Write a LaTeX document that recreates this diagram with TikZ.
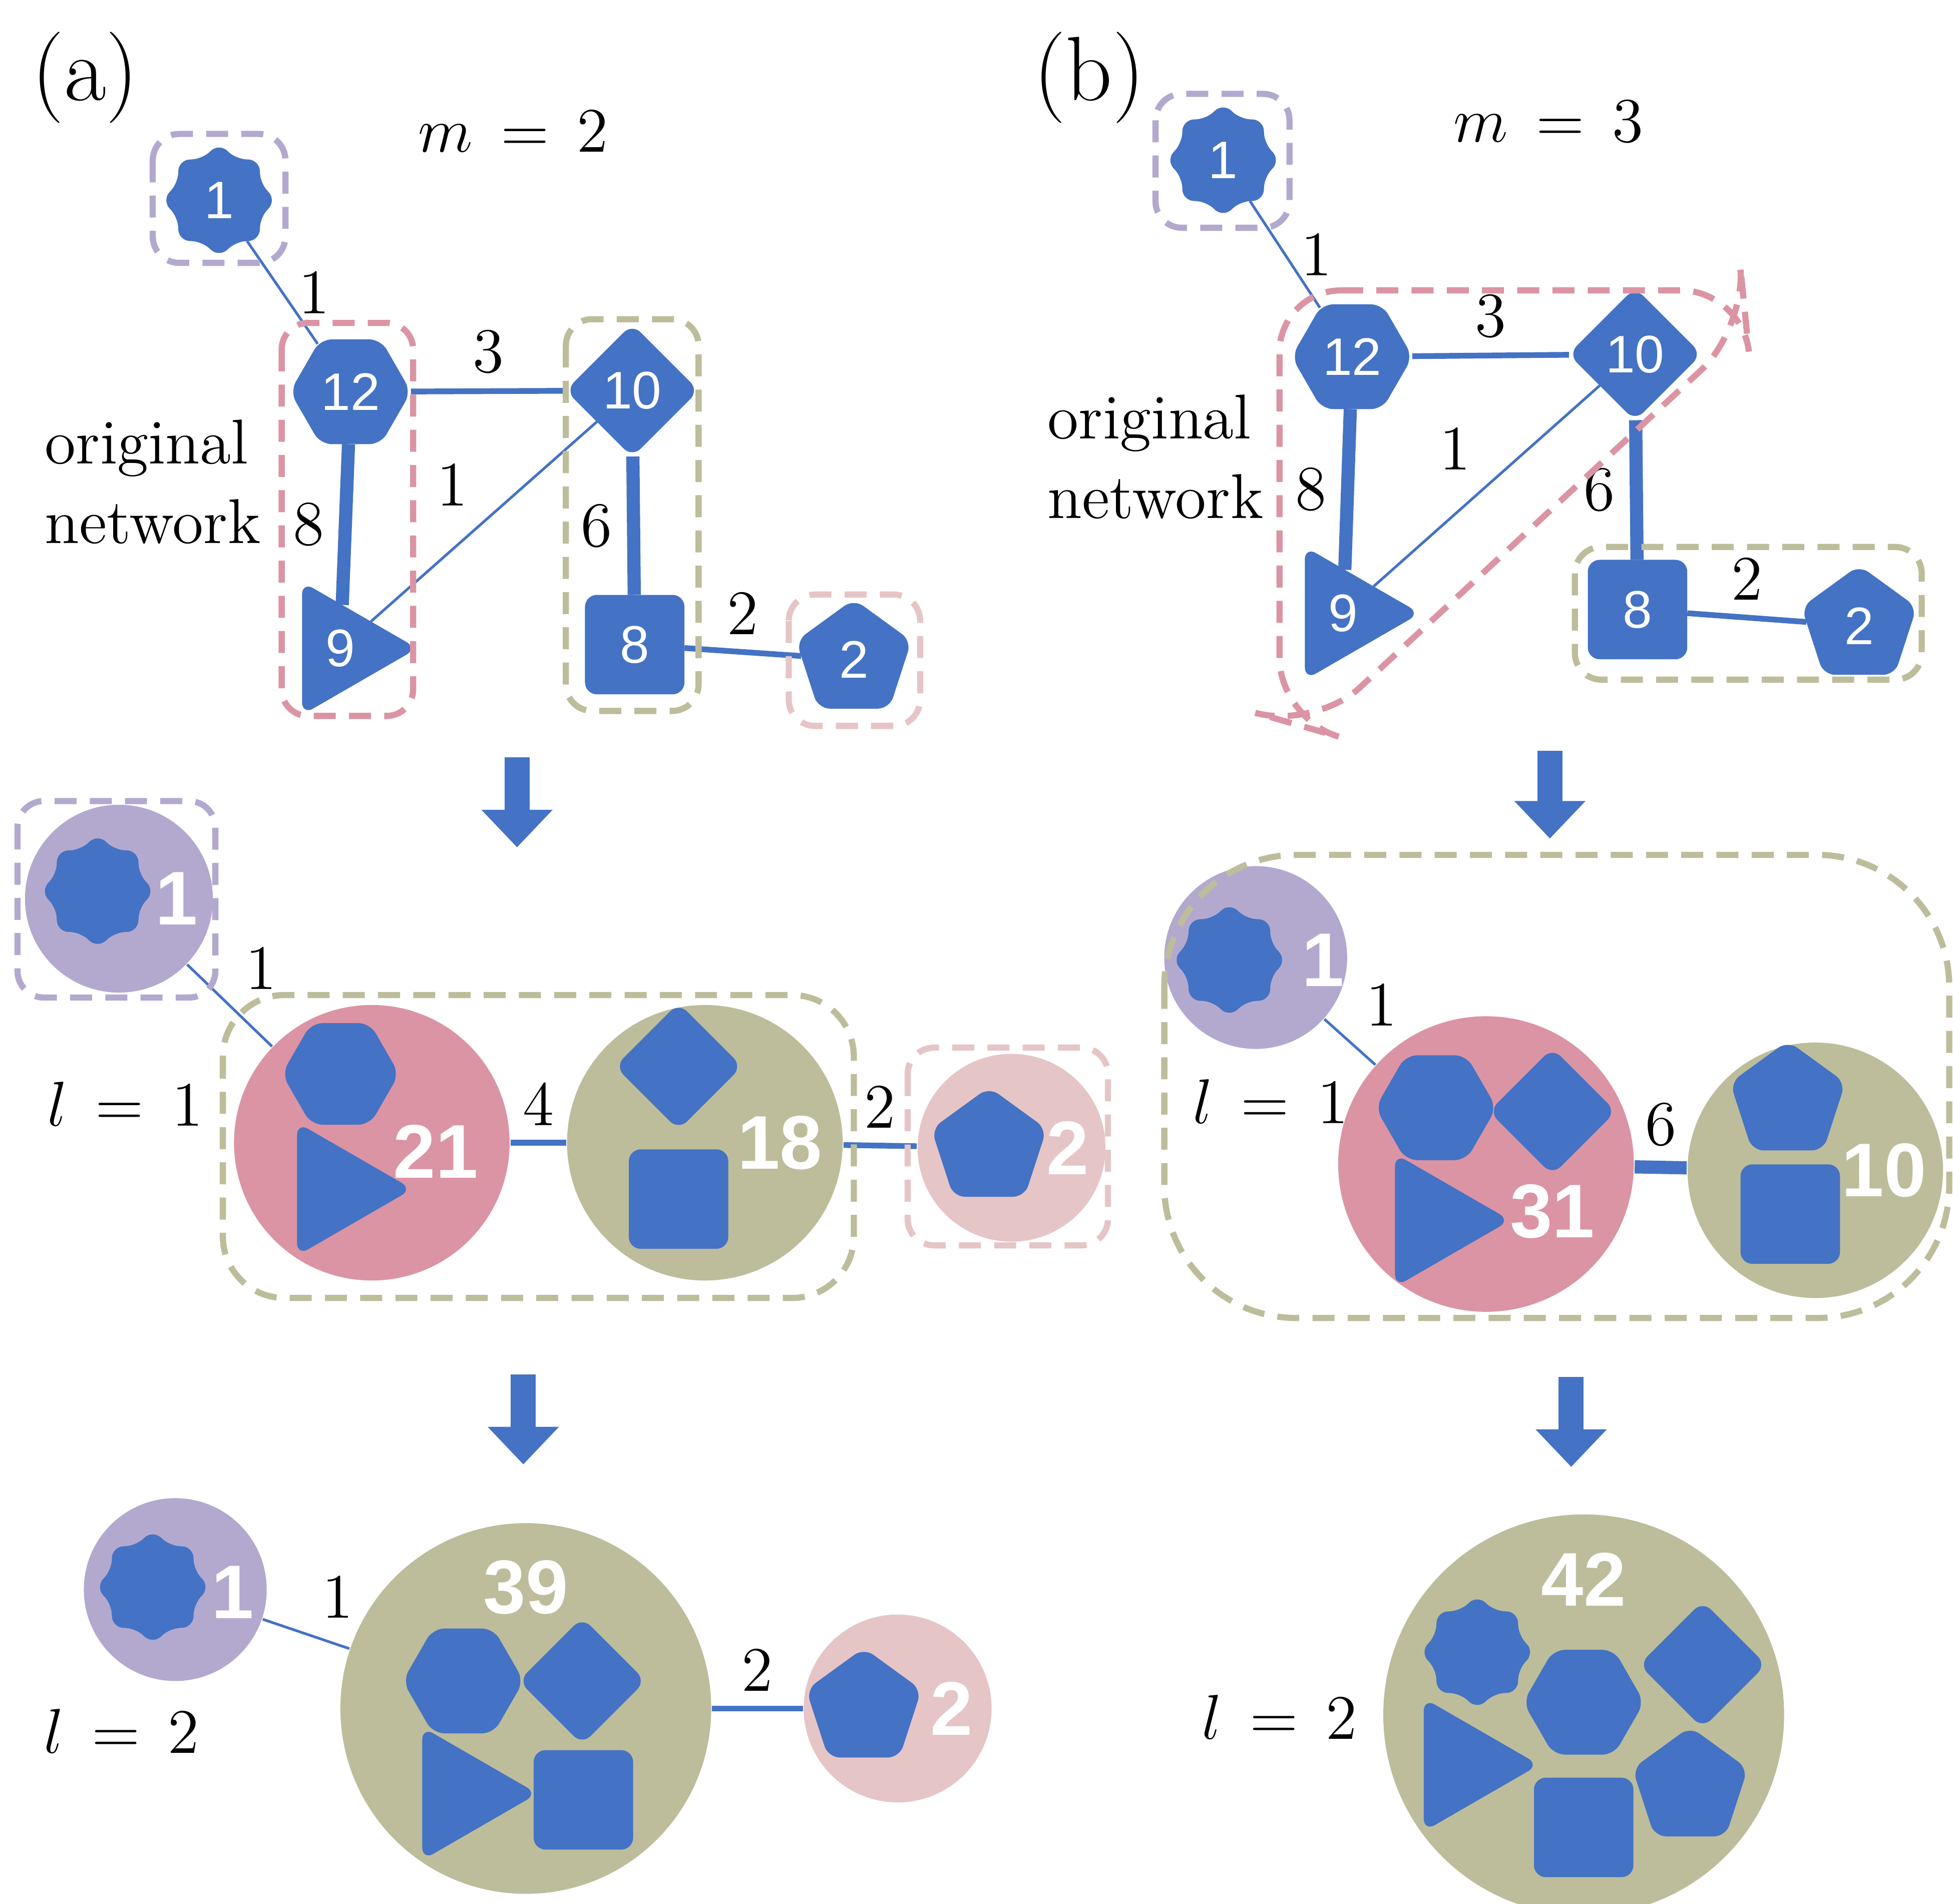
\documentclass[tikz,border=0pt]{standalone}
\usepackage{fontspec}
\setsansfont{Liberation Sans}
\usetikzlibrary{shapes.geometric,arrows.meta}
\definecolor{nblue}{HTML}{4472C4}
\definecolor{cpur}{HTML}{B3A9CF}
\definecolor{cred}{HTML}{DB94A4}
\definecolor{colv}{HTML}{BDBD9B}
\definecolor{cpink}{HTML}{E6C5C7}
\tikzset{
  sh/.style={fill=nblue, draw=nblue, line join=round, rounded corners=2.5pt, inner sep=0pt,
    text=white, font=\sffamily\large},
  hexa/.style={sh, regular polygon, regular polygon sides=6, minimum size=0.95cm},
  tri/.style={sh, regular polygon, regular polygon sides=3, shape border rotate=-90, minimum size=1.2cm},
  dia/.style={sh, diamond, minimum size=1.05cm},
  sq/.style={sh, rectangle, minimum size=0.78cm},
  penta/.style={sh, regular polygon, regular polygon sides=5, minimum size=0.95cm},
  octo/.style={sh, star, star points=8, star point ratio=1.3, minimum size=0.9cm},
  grp/.style={circle, inner sep=0pt, minimum size=#1},
  num/.style={text=white, font=\sffamily\bfseries\LARGE},
  lab/.style={font=\Large},
  link/.style={draw=nblue, line width=#1},
  box/.style={dashed, dash pattern=on 5pt off 3pt, line width=1.4pt, rounded corners=6pt},
  down/.style={draw=nblue, line width=0.2cm, -{Triangle[length=0.3cm,width=0.55cm]}}
}
\begin{document}
\begin{tikzpicture}[x=0.01cm, y=-0.01cm]
\useasboundingbox (0,0) rectangle (1560,1521);

% ---- (a) original network
\node[font=\huge] at (68,62) {(a)};
\node[lab] at (410,105) {$m\,=\,2$};
\node[lab, align=left] at (122,385) {original\\network};
\node[octo] (a1) at (175,160) {1};
\node[hexa] (a12) at (280,313) {12};
\node[tri] (a9) at (272,518) {9};
\node[dia] (a10) at (505,312) {10};
\node[sq] (a8) at (507,515) {8};
\node[penta] (a2) at (682,527) {2};
\draw[link=0.6pt] (a1) -- node[lab, right] {1} (a12);
\draw[link=1.3pt] (a12) -- node[lab, above] {3} (a10);
\draw[link=3pt] (a12) -- node[lab, left] {8} (a9);
\draw[link=0.6pt] (a10) -- node[lab, above left] {1} (a9);
\draw[link=3pt] (a10) -- node[lab, left] {6} (a8);
\draw[link=1.3pt] (a8) -- node[lab, above] {2} (a2);
\draw[box, cpur] (122,107) rectangle (228,210);
\draw[box, cred] (225,258) rectangle (330,572);
\draw[box, colv] (452,255) rectangle (558,568);
\draw[box, cpink] (630,475) rectangle (735,580);
\coordinate (ad1s) at (413,605);
\coordinate (ad1e) at (413,677);
\draw[down] (ad1s) -- (ad1e);

% ---- (a) level 1
\node[lab] at (100,882) {$l\,=\,1$};
\node[grp=1.5cm, fill=cpur] (aP) at (95,718) {};
\node[octo] at (78,712) {};
\node[num] at (141,718) {1};
\node[grp=2.2cm, fill=cred] (aR) at (297,913) {};
\node[hexa, minimum size=0.92cm] at (272,858) {};
\node[tri, minimum size=1.2cm] at (268,950) {};
\node[num] at (348,920) {21};
\node[grp=2.2cm, fill=colv] (aO) at (563,913) {};
\node[dia, minimum size=1.0cm] at (542,852) {};
\node[sq] at (542,958) {};
\node[num] at (623,913) {18};
\node[grp=1.5cm, fill=cpink] (aK) at (808,917) {};
\node[penta, minimum size=0.95cm] at (790,917) {};
\node[num] at (853,917) {2};
\draw[link=0.6pt] (aP) -- node[lab, above right] {1} (aR);
\draw[link=1.3pt] (aR) -- node[lab, above] {4} (aO);
\draw[link=1.3pt] (aO) -- node[lab, above] {2} (aK);
\draw[box, cpur] (14,640) rectangle (172,797);
\draw[box, colv, rounded corners=14pt] (178,795) rectangle (682,1037);
\draw[box, cpink] (725,837) rectangle (885,995);
\coordinate (ad2s) at (418,1098);
\coordinate (ad2e) at (418,1170);
\draw[down] (ad2s) -- (ad2e);

% ---- (a) level 2
\node[lab] at (97,1383) {$l\,=\,2$};
\node[grp=1.46cm, fill=cpur] (aP2) at (140,1270) {};
\node[octo] at (122,1268) {};
\node[num] at (186,1272) {1};
\node[grp=2.96cm, fill=colv] (aO2) at (420,1365) {};
\node[num] at (420,1268) {39};
\node[hexa] at (370,1343) {};
\node[dia, minimum size=1.0cm] at (465,1343) {};
\node[tri] at (368,1433) {};
\node[sq] at (466,1438) {};
\node[grp=1.5cm, fill=cpink] (aK2) at (717,1365) {};
\node[penta] at (690,1365) {};
\node[num] at (760,1365) {2};
\draw[link=0.6pt] (aP2) -- node[lab, above right] {1} (aO2);
\draw[link=1.3pt] (aO2) -- node[lab, above] {2} (aK2);

% ---- (b) original network
\node[font=\huge] at (870,62) {(b)};
\node[lab] at (1237,97) {$m\,=\,3$};
\node[lab, align=left] at (923,365) {original\\network};
\node[octo] (b1) at (977,128) {1};
\node[hexa] (b12) at (1080,285) {12};
\node[tri] (b9) at (1073,490) {9};
\node[dia] (b10) at (1306,283) {10};
\node[sq] (b8) at (1308,487) {8};
\node[penta] (b2) at (1485,500) {2};
\draw[link=0.6pt] (b1) -- node[lab, right] {1} (b12);
\draw[link=1.3pt] (b12) -- node[lab, above] {3} (b10);
\draw[link=3pt] (b12) -- node[lab, left] {8} (b9);
\draw[link=0.6pt] (b10) -- node[lab, above left] {1} (b9);
\draw[link=3pt] (b10) -- node[lab, left] {6} (b8);
\draw[link=1.3pt] (b8) -- node[lab, above] {2} (b2);
\draw[box, cpur] (923,75) rectangle (1030,182);
\draw[box, cred, rounded corners=14pt] (1022,232) -- (1392,232) -- (1395,262) -- (1050,583) -- (1022,575) -- cycle;
\draw[box, colv] (1258,437) rectangle (1535,543);
\coordinate (bd1s) at (1238,600);
\coordinate (bd1e) at (1238,670);
\draw[down] (bd1s) -- (bd1e);

% ---- (b) level 1
\node[lab] at (1015,880) {$l\,=\,1$};
\node[grp=1.46cm, fill=cpur] (bP) at (1003,765) {};
\node[octo] at (982,767) {};
\node[num] at (1057,767) {1};
\node[grp=2.36cm, fill=cred] (bR) at (1187,930) {};
\node[hexa] at (1147,885) {};
\node[dia, minimum size=1.0cm] at (1240,888) {};
\node[tri] at (1145,975) {};
\node[num] at (1240,968) {31};
\node[grp=2.04cm, fill=colv] (bO) at (1450,935) {};
\node[penta] at (1428,880) {};
\node[sq] at (1430,970) {};
\node[num] at (1505,935) {10};
\draw[link=0.6pt] (bP) -- node[lab, above right] {1} (bR);
\draw[link=3pt] (bR) -- node[lab, above] {6} (bO);
\draw[box, colv, rounded corners=30pt] (930,683) rectangle (1557,1053);
\coordinate (bd2s) at (1255,1100);
\coordinate (bd2e) at (1255,1172);
\draw[down] (bd2s) -- (bd2e);

% ---- (b) level 2
\node[lab] at (1022,1372) {$l\,=\,2$};
\node[grp=3.2cm, fill=colv] (bO2) at (1265,1370) {};
\node[num] at (1265,1262) {42};
\node[octo] at (1180,1320) {};
\node[hexa] at (1265,1360) {};
\node[dia, minimum size=1.0cm] at (1360,1330) {};
\node[tri] at (1168,1410) {};
\node[sq] at (1265,1460) {};
\node[penta] at (1350,1428) {};
\end{tikzpicture}
\end{document}
